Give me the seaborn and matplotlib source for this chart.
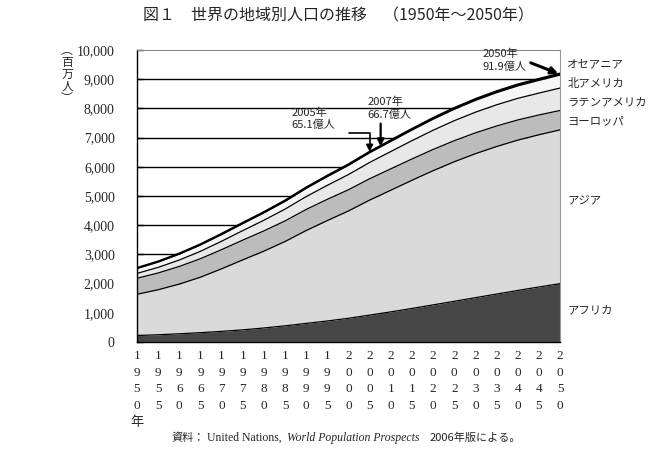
import numpy as np
import pandas as pd
import seaborn as sns
import matplotlib.pyplot as plt
import matplotlib.transforms as mtransforms

# World population by region, millions (UN WPP 2006)
years = [1950, 1955, 1960, 1965, 1970, 1975, 1980, 1985, 1990, 1995, 2000,
         2005, 2010, 2015, 2020, 2025, 2030, 2035, 2040, 2045, 2050]
africa = [224, 247, 282, 320, 364, 416, 480, 554, 637, 720, 812,
          922, 1032, 1149, 1271, 1394, 1518, 1641, 1765, 1884, 1998]
asia = [1411, 1542, 1702, 1899, 2143, 2397, 2632, 2887, 3181, 3439, 3676,
        3938, 4166, 4389, 4596, 4779, 4931, 5053, 5148, 5213, 5266]
europe = [547, 575, 604, 634, 656, 676, 693, 706, 721, 728, 727,
          731, 732, 730, 727, 721, 713, 703, 691, 678, 664]
latin_america = [167, 191, 220, 253, 288, 326, 365, 404, 442, 479, 521,
                 558, 593, 627, 658, 685, 708, 726, 740, 749, 769]
north_america = [172, 187, 204, 219, 231, 242, 254, 267, 282, 300, 316,
                 332, 348, 363, 378, 392, 405, 417, 427, 436, 445]
oceania = [13, 14, 16, 18, 20, 21, 23, 25, 27, 29, 31,
           33, 35, 37, 39, 41, 43, 45, 46, 48, 49]

regions = ["アフリカ", "アジア", "ヨーロッパ", "ラテンアメリカ", "北アメリカ", "オセアニア"]
series = [africa, asia, europe, latin_america, north_america, oceania]
fills = ["#464646", "#dadada", "#bcbcbc", "#e8e8e8", "#f7f7f7", "#a0a0a0"]

df = pd.DataFrame(dict(zip(regions, series)), index=years)
cum = df.cumsum(axis=1)

sns.set_theme(style="white")
jp = ["Noto Sans CJK JP", "DejaVu Sans"]
num = ["Liberation Serif", "Noto Sans CJK JP"]
plt.rcParams["font.family"] = jp

fig = plt.figure(figsize=(6.49, 4.55), dpi=100)
ax = fig.add_axes([137 / 649, 1 - 342 / 455, 423 / 649, 292 / 455])

# stacked areas
lower = np.zeros(len(years))
for name, col in zip(regions, fills):
    upper = cum[name].values
    ax.fill_between(years, lower, upper, color=col, lw=0, zorder=2)
    lower = upper

# boundary lines
long = cum.reset_index().melt(id_vars="index", var_name="region", value_name="value")
long = long.rename(columns={"index": "year"})
sns.lineplot(data=long[long.region != "オセアニア"], x="year", y="value",
             hue="region", palette=["black"] * 5, lw=0.9, legend=False, ax=ax, zorder=3)
sns.lineplot(data=long[long.region == "オセアニア"], x="year", y="value",
             color="black", lw=1.6, legend=False, ax=ax, zorder=3)

ax.set_xlim(1950, 2050)
ax.set_ylim(0, 10000)
ax.set_xlabel("")
ax.set_ylabel("")

ax.set_yticks(range(0, 10001, 1000))
ax.set_yticklabels([f"{v:,}" for v in range(0, 10001, 1000)], family=num, fontsize=10)
xlabels = ["\n".join(str(y)) for y in years]
xlabels[0] += "\n年"
ax.set_xticks(years)
ax.set_xticklabels(xlabels, family=num, fontsize=9.5, linespacing=1.5)
ax.tick_params(axis="y", direction="in", length=4, width=1, color="black", pad=16, left=True)
ax.tick_params(axis="x", direction="in", length=2, width=0.8, color="black", pad=6, bottom=True)

ax.yaxis.grid(True, color="black", lw=1)
ax.set_axisbelow(True)
ax.get_ygridlines()[-1].set_visible(False)
ax.get_ygridlines()[0].set_visible(False)

for s in ["left", "bottom"]:
    ax.spines[s].set_color("black")
    ax.spines[s].set_linewidth(1)
ax.spines["top"].set_color("#888888")
ax.spines["top"].set_linestyle((0, (1, 1)))
ax.spines["top"].set_linewidth(0.8)
ax.spines["right"].set_color("#999999")
ax.spines["right"].set_linewidth(0.8)

# annotations
arrow = dict(arrowstyle="-|>", color="black", lw=1.6, mutation_scale=10, shrinkA=0, shrinkB=0)
ax.text(1986.6, 7250, "2005年\n65.1億人", fontsize=8, ha="left", va="bottom", linespacing=1.3)
ax.annotate("", xy=(2005, 6515), xytext=(2000, 7160),
            arrowprops=dict(arrow, connectionstyle="angle,angleA=0,angleB=90,rad=0", lw=1.2))
ax.text(2004.4, 7600, "2007年\n66.7億人", fontsize=8, ha="left", va="bottom", linespacing=1.3)
ax.annotate("", xy=(2007.6, 6700), xytext=(2007.6, 7480), arrowprops=arrow)
ax.text(2031.6, 9250, "2050年\n91.9億人", fontsize=8, ha="left", va="bottom", linespacing=1.3)
ax.annotate("", xy=(2049.6, 9191), xytext=(2043.1, 9560), arrowprops=dict(arrow, lw=2.2))

# region labels on the right
trans = mtransforms.blended_transform_factory(ax.transAxes, ax.transData)
label_y = [1096, 4863, 7568, 8219, 8836, 9520]
for name, yv in zip(regions, label_y):
    ax.text(1.017, yv, name, transform=trans, fontsize=8.2, ha="left", va="center")

fig.text(0.5 * (147 + 530) / 649, 1 - 16 / 455,
         "図１　世界の地域別人口の推移　（1950年～2050年）",
         fontsize=11.5, ha="center", va="center")
fig.text(67 / 649, 1 - 44 / 455, "︵\n百\n万\n人\n︶", fontsize=8.5,
         ha="center", va="top", linespacing=0.9)

# source line, each piece placed right after the previous one
prev = fig.text(172 / 649, 1 - 438 / 455, "資料：", fontsize=8, ha="left", va="center")
pieces = [("United Nations,", dict(family=num, fontsize=8.5), 1),
          ("World Population Prospects", dict(family=num, fontsize=8.5, style="italic"), 4),
          ("2006年版による。", dict(fontsize=8), 7)]
for txt, kw, gap in pieces:
    prev = ax.annotate(txt, xy=(1, 0.5), xycoords=prev, xytext=(gap, 0),
                       textcoords="offset points", ha="left", va="center",
                       annotation_clip=False, **kw)

fig.savefig("out.png", dpi=100)
